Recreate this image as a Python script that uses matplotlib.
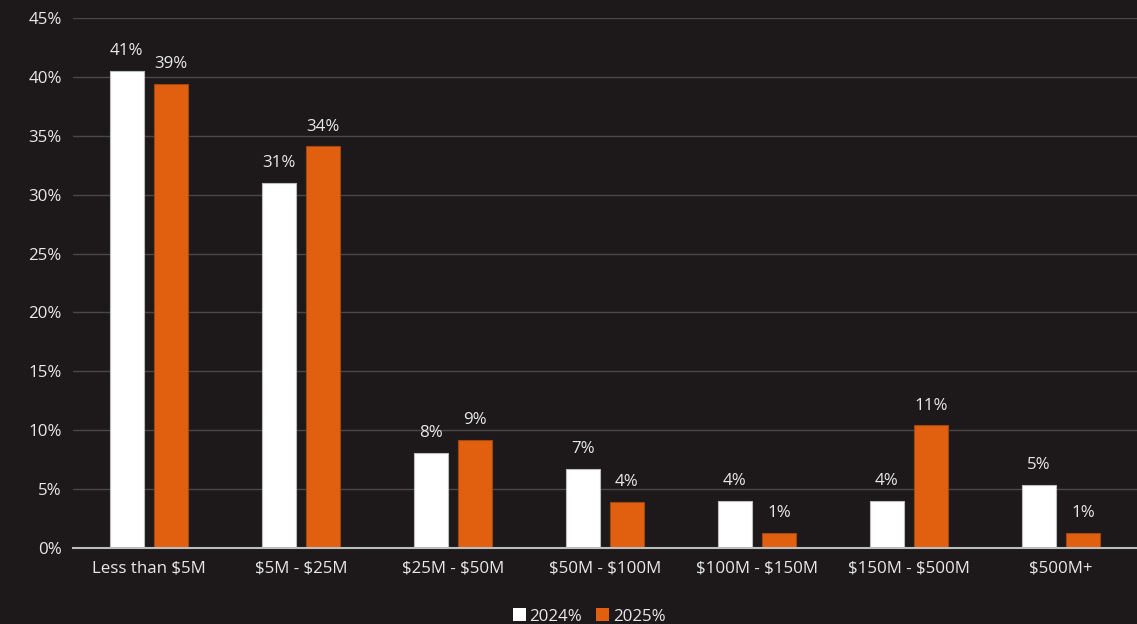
import numpy as np
import matplotlib.pyplot as plt

categories = ['Less than $5M', '$5M - $25M', '$25M - $50M', '$50M - $100M',
              '$100M - $150M', '$150M - $500M', '$500M+']
vals_2024 = [40.5, 31.0, 8.1, 6.7, 4.0, 4.0, 5.35]
vals_2025 = [39.4, 34.1, 9.2, 3.9, 1.27, 10.4, 1.27]
labels_2024 = ['41%', '31%', '8%', '7%', '4%', '4%', '5%']
labels_2025 = ['39%', '34%', '9%', '4%', '1%', '11%', '1%']

bg = '#1d191a'
orange = '#e06010'
txt = '#e8e8e8'
fs = 12.2

plt.rcParams['font.family'] = ['Open Sans', 'DejaVu Sans']
plt.rcParams['text.parse_math'] = False

fig = plt.figure(figsize=(11.37, 6.24), dpi=100, facecolor=bg)
ax = fig.add_axes([0.064, 0.122, 0.936, 0.849])
ax.set_facecolor(bg)

x = np.arange(len(categories))
w = 0.224
off = 0.145
b1 = ax.bar(x - off, vals_2024, w, color='white', edgecolor='#bdbdbd', linewidth=0.8, zorder=3, label='2024%')
b2 = ax.bar(x + off, vals_2025, w, color=orange, edgecolor='#a54510', linewidth=0.8, zorder=3, label='2025%')

for rect, lab in zip(b1, labels_2024):
    ax.text(rect.get_x() + rect.get_width() / 2, rect.get_height() + 1.0, lab,
            ha='center', va='bottom', color=txt, fontsize=fs)
for rect, lab in zip(b2, labels_2025):
    ax.text(rect.get_x() + rect.get_width() / 2, rect.get_height() + 1.0, lab,
            ha='center', va='bottom', color=txt, fontsize=fs)

ax.set_xlim(-0.5, 6.5)
ax.set_ylim(0, 45)
ax.set_yticks(np.arange(0, 46, 5))
ax.set_yticklabels([f'{v}%' for v in range(0, 46, 5)])
ax.set_xticks(x)
ax.set_xticklabels(categories)
ax.tick_params(axis='both', colors=txt, labelsize=fs, length=0)
ax.tick_params(axis='x', pad=9)
ax.tick_params(axis='y', pad=8)
ax.grid(axis='y', color='#4a4747', linewidth=1, zorder=0)
for s in ['top', 'right', 'left']:
    ax.spines[s].set_visible(False)
ax.spines['bottom'].set_color('#bdbdbd')
ax.spines['bottom'].set_linewidth(1.5)
ax.spines['bottom'].set_zorder(4)

leg = ax.legend(loc='upper center', bbox_to_anchor=(0.485, -0.085), ncol=2, frameon=False,
                handlelength=0.8, handleheight=0.8, handletextpad=0.2, columnspacing=0.8,
                fontsize=fs, labelcolor=txt)
for h in leg.legend_handles:
    h.set_edgecolor('none')

fig.savefig('out.png', dpi=100, facecolor=bg)
